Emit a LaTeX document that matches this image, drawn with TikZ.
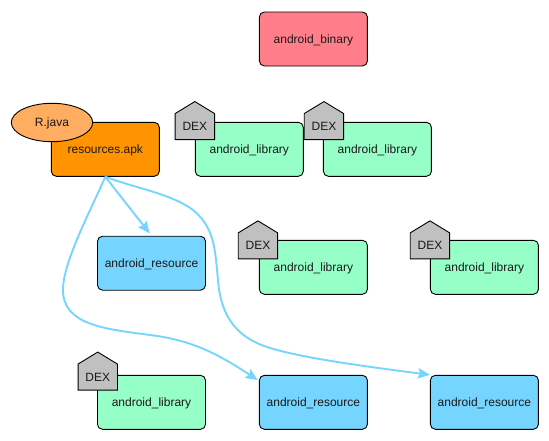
\documentclass[tikz,border=0pt]{standalone}
\usepackage{fontspec}
\setmainfont{Liberation Sans}
\usetikzlibrary{arrows.meta,shapes.geometric}
\definecolor{libgreen}{HTML}{96FFC8}
\definecolor{resblue}{HTML}{76D5FF}
\definecolor{apkorange}{HTML}{FF9300}
\definecolor{binred}{HTML}{FF7E8A}
\definecolor{dexgray}{HTML}{C0C0C0}
\definecolor{javaorange}{HTML}{FFAD60}
\definecolor{linkblue}{HTML}{76D5FF}
\tikzset{
  labeltext/.style={font=\fontsize{12}{14}\selectfont,text=black!90,text height=9pt,text depth=1pt},
  base/.style={labeltext,draw=black,line width=0.9pt,rounded corners=5pt,minimum width=108pt,minimum height=54pt,inner sep=0pt},
  libbox/.style={base,fill=libgreen},
  resbox/.style={base,fill=resblue},
  apkbox/.style={base,fill=apkorange},
  binbox/.style={base,fill=binred},
  dextext/.style={labeltext,inner sep=0pt},
  dexshape/.style={draw=black,line width=0.9pt,fill=dexgray,line join=miter},
  javanode/.style={labeltext,draw=black,line width=0.9pt,fill=javaorange,ellipse,minimum width=81.4pt,minimum height=38.4pt,inner sep=0pt},
  link/.style={draw=linkblue,line width=1.9pt,-{Stealth[length=12pt,width=10.5pt,inset=2pt]}},
}
% #1 node, #2 horizontal offset, #3 upward offset of the house centre from the node's north west corner
\newcommand{\dexmark}[3]{%
  \draw[dexshape] ([shift={(#2pt-19.7pt,#3pt-19pt)}]#1.north west)
    -- ([shift={(#2pt+19.7pt,#3pt-19pt)}]#1.north west)
    -- ([shift={(#2pt+19.7pt,#3pt+7pt)}]#1.north west)
    -- ([shift={(#2pt,#3pt+19pt)}]#1.north west)
    -- ([shift={(#2pt-19.7pt,#3pt+7pt)}]#1.north west) -- cycle;
  \node[dextext] (dex#1) at ([shift={(#2pt,#3pt-6pt)}]#1.north west) {DEX};
}
\begin{document}
\begin{tikzpicture}[x=1pt,y=-1pt]
\useasboundingbox (0,0) rectangle (549,440);
\node[binbox] (bin) at (313.4,39) {android\_binary};
\node[apkbox] (apk) at (105.3,149.3) {resources.apk};
\node[libbox] (liba) at (249.3,149.3) {android\_library};
\node[libbox] (libb) at (377.4,149.3) {android\_library};
\node[resbox] (resa) at (151.5,263.2) {android\_resource};
\node[libbox] (libc) at (313.4,267.3) {android\_library};
\node[libbox] (libd) at (484.4,267.3) {android\_library};
\node[libbox] (libe) at (151.5,402.3) {android\_library};
\node[resbox] (resb) at (313.4,402.3) {android\_resource};
\node[resbox] (resc) at (484.4,402.3) {android\_resource};
\dexmark{liba}{0}{1.3}
\dexmark{libb}{1}{1.3}
\dexmark{libc}{-1}{0}
\dexmark{libd}{0}{0}
\dexmark{libe}{0.7}{3.8}
\node[javanode] (java) at (52,122.5) {R.java};
\draw[link,shorten >=3pt] (apk.south) -- (resa.north);
\draw[link] (apk.south) .. controls (90,212) and (63,262) .. (63,290)
  .. controls (63,325) and (105,329) .. (150,335)
  .. controls (190,340) and (215,352) .. ([shift={(-1.3pt,-5.2pt)}]resb.north west);
\draw[link] (apk.south) .. controls (135,188) and (172,194) .. (193,210)
  .. controls (215,228) and (215,250) .. (218,280)
  .. controls (221,320) and (240,338) .. (267,347)
  .. controls (300,358) and (370,367) .. (resc.north west);
\end{tikzpicture}
\end{document}
